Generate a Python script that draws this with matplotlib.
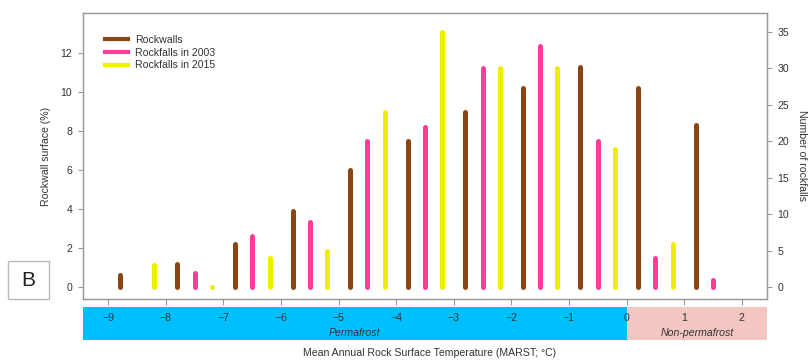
import matplotlib
matplotlib.use("Agg")
import matplotlib.pyplot as plt
from matplotlib.lines import Line2D
from matplotlib.patches import Rectangle
import numpy as np

plt.rcParams['font.family'] = ['Liberation Sans', 'DejaVu Sans']

# ---- data ----
bin_centers = [-8.5, -7.5, -6.5, -5.5, -4.5, -3.5, -2.5, -1.5, -0.5, 0.5, 1.5]
rockwalls = [0.65, 1.2, 2.2, 3.9, 6.0, 7.5, 9.0, 10.2, 11.3, 10.2, 8.3]          # % (left axis)
rockfalls_2003 = [None, 2, 7, 9, 20, 22, 30, 33, 20, 4, 1]                       # count (right axis)
rockfalls_2015 = [3, 0, 4, 5, 24, 35, 30, 30, 19, 6, None]                       # count (right axis)
series_labels = ["Rockwalls", "Rockfalls in 2003", "Rockfalls in 2015"]
left_ticks = [0, 2, 4, 6, 8, 10, 12]
right_ticks = [0, 5, 10, 15, 20, 25, 30, 35]
x_ticks = [-9, -8, -7, -6, -5, -4, -3, -2, -1, 0, 1, 2]
zones = ["Permafrost", "Non-permafrost"]

# ---- style ----
c_brown = "#8B4513"
c_pink = "#FF3D99"
c_yellow = "#EEEE00"
c_cyan = "#00BFFF"
c_band_pink = "#F4C6C2"
grey = "#999999"
txt = "#333333"
lw_bar = 3.6
fs = 7.6

W, H = 811, 361
fig = plt.figure(figsize=(W / 100, H / 100), dpi=100)

L, R, T, B = 83, 767, 13, 299
ax = fig.add_axes([L / W, 1 - B / H, (R - L) / W, (B - T) / H])
ax.set_zorder(2)
ax.patch.set_visible(False)
ax2 = ax.twinx()
ax2.set_zorder(3)
ax2.patch.set_visible(False)

xlim = (-9.44, 2.44)
ylim_left = (-0.6, 14.07)
scale = 19.5 / 7.30
ylim_right = (ylim_left[0] * scale, ylim_left[1] * scale)

def bars(axis, xs, vals, color):
    for x, v in zip(xs, vals):
        if v is None:
            continue
        axis.plot([x, x], [0, v], color=color, lw=lw_bar,
                  solid_capstyle='round', zorder=3)
        if v == 0:
            axis.plot([x], [0], marker='o', ms=lw_bar * 0.95, color=color,
                      mec='none', zorder=3)

bc = np.array(bin_centers)
bars(ax, bc - 0.3, rockwalls, c_brown)
bars(ax2, bc, rockfalls_2003, c_pink)
bars(ax2, bc + 0.3, rockfalls_2015, c_yellow)

ax.set_xlim(*xlim)
ax.set_ylim(*ylim_left)
ax2.set_ylim(*ylim_right)

for a in (ax, ax2):
    for s in a.spines.values():
        s.set_color(grey)
        s.set_linewidth(0.9)

ax.set_yticks(left_ticks)
ax.set_yticklabels([str(t) for t in left_ticks])
ax2.set_yticks(right_ticks)
ax2.set_yticklabels([str(t) for t in right_ticks])
ax.set_xticks(x_ticks)
ax.set_xticklabels([("\u2212" + str(-t)) if t < 0 else str(t) for t in x_ticks])

ax.tick_params(axis='y', length=3.8, width=0.8, color=grey, labelsize=fs,
               labelcolor=txt, pad=4)
ax2.tick_params(axis='y', length=3.8, width=0.8, color=grey, labelsize=fs,
                labelcolor=txt, pad=3.5)
ax.tick_params(axis='x', length=4.3, width=0.8, color=grey, labelsize=fs,
               labelcolor=txt, pad=5.5)
ax2.tick_params(axis='x', bottom=False, labelbottom=False)

ax.set_ylabel("Rockwall surface (%)", fontsize=fs, color=txt)
ax.yaxis.set_label_coords((51 - L) / (R - L), 0.5)
fig.text(802 / W, 1 - 156 / H, "Number of rockfalls", rotation=270,
         ha='center', va='center', fontsize=fs, color=txt)

# band below
band_top, band_bot = 306.7, 340
bax = fig.add_axes([L / W, 1 - band_bot / H, (R - L) / W, (band_bot - band_top) / H])
bax.set_zorder(0)
bax.set_xlim(*xlim)
bax.set_ylim(0, 1)
bax.axvspan(xlim[0], 0, color=c_cyan, lw=0)
bax.axvspan(0, xlim[1], color=c_band_pink, lw=0)
bax.axis('off')
bax.text(-4.73, 0.22, zones[0], style='italic', fontsize=fs, color=txt,
         ha='center', va='center')
bax.text(1.22, 0.22, zones[1], style='italic', fontsize=fs, color=txt,
         ha='center', va='center')

fig.text(430 / W, 1 - 353.5 / H, "Mean Annual Rock Surface Temperature (MARST; \u00b0C)",
         ha='center', va='center', fontsize=fs, color=txt)

# legend
handles = [Line2D([], [], color=c, lw=3) for c in (c_brown, c_pink, c_yellow)]
leg = ax.legend(handles, series_labels, loc='upper left',
                bbox_to_anchor=((105 - L) / (R - L), (B - 35) / (B - T)),
                frameon=False, fontsize=fs, handlelength=2.2, handletextpad=0.65,
                labelspacing=0.25, borderpad=0, borderaxespad=0)
for t in leg.get_texts():
    t.set_color(txt)

# panel label
fig.patches.append(Rectangle((8 / W, 1 - 299.3 / H), 41 / W, 38.6 / H,
                             transform=fig.transFigure, fill=False,
                             edgecolor="#BBBBBB", lw=1))
fig.text(28.5 / W, 1 - 280 / H, "B", fontsize=15, color="#222222",
         ha='center', va='center')

fig.savefig("out.png", dpi=100)
